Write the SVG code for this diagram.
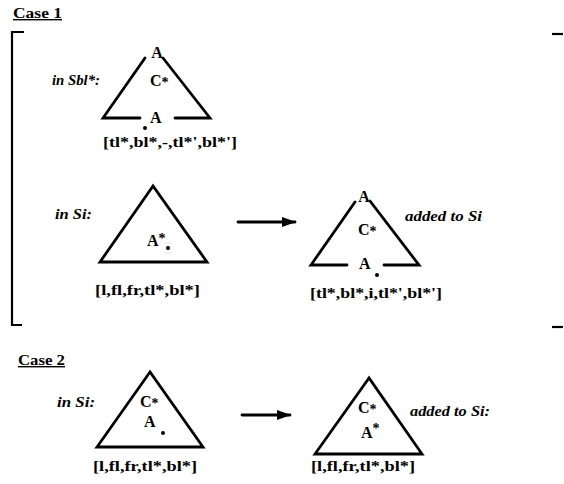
<svg xmlns="http://www.w3.org/2000/svg" width="564" height="484" viewBox="0 0 564 484">
<style>
.t{font-family:"Liberation Serif",serif;font-weight:bold;fill:#000}
.big{font-size:16px}
.lab{font-size:14px}
.it{font-family:"Liberation Serif",serif;font-weight:bold;font-style:italic;font-size:14px;fill:#000}
.hd{font-family:"Liberation Serif",serif;font-weight:bold;font-size:14px;fill:#000;text-decoration:underline}
.sup{font-size:14px}
.ln{stroke:#000;stroke-width:2.8;fill:none;stroke-linecap:round;stroke-linejoin:miter}
.br{stroke:#000;stroke-width:2.2;fill:none}
</style>
<defs>
<marker id="ah" viewBox="0 0 14 10" refX="13" refY="5" markerWidth="14" markerHeight="10" markerUnits="userSpaceOnUse" orient="auto">
<path d="M0,0 L14,5 L0,10 Z" fill="#000"/>
</marker>
</defs>
<rect width="564" height="484" fill="#fff"/>

<g id="case1-frame">
<text class="hd" x="13" y="18" textLength="49" lengthAdjust="spacingAndGlyphs">Case 1</text>
<path class="br" d="M24,32 L12,32 L12,325 L22,325"/>
<path class="br" d="M552,34 L563,34"/>
<path class="br" d="M552,327 L563,327"/>
</g>

<g id="tri-sbl">
<text class="it" x="52" y="85" textLength="48" lengthAdjust="spacingAndGlyphs">in Sbl*:</text>
<path class="ln" d="M145,58 L103,118 L140,118 M175,118 L210,118 L163,58"/>
<text class="t big" x="157" y="58" text-anchor="middle">A</text>
<text class="t big" x="150" y="86">C<tspan class="sup" dy="1">*</tspan></text>
<text class="t big" x="150" y="123">A</text>
<circle cx="145" cy="128" r="2"/>
<text class="t lab" x="103" y="147" textLength="134" lengthAdjust="spacingAndGlyphs">[tl*,bl*,-,tl*',bl*']</text>
</g>

<g id="tri-si-1">
<text class="it" x="55" y="219" textLength="37" lengthAdjust="spacingAndGlyphs">in Si:</text>
<path class="ln" d="M153,186 L100,262 L207,262 Z"/>
<text class="t big" x="147" y="246">A<tspan class="sup" dy="-3">*</tspan></text>
<circle cx="168" cy="248" r="2"/>
<text class="t lab" x="95" y="295" textLength="105" lengthAdjust="spacingAndGlyphs">[l,fl,fr,tl*,bl*]</text>
</g>

<g id="tri-added-1">
<path class="ln" d="M355,202 L311,265 L347,265 M384,265 L419,265 L370,201"/>
<text class="t big" x="364" y="202" text-anchor="middle">A</text>
<text class="t big" x="358" y="235">C<tspan class="sup" dy="1">*</tspan></text>
<text class="t big" x="359" y="269">A</text>
<circle cx="377" cy="275" r="2"/>
<text class="t lab" x="310" y="298" textLength="132" lengthAdjust="spacingAndGlyphs">[tl*,bl*,i,tl*',bl*']</text>
<text class="it" x="405" y="221" textLength="77" lengthAdjust="spacingAndGlyphs">added to Si</text>
</g>

<g id="case2-label">
<text class="hd" x="18" y="365" textLength="47" lengthAdjust="spacingAndGlyphs">Case 2</text>
</g>

<g id="tri-si-2">
<text class="it" x="57" y="407" textLength="38" lengthAdjust="spacingAndGlyphs">in Si:</text>
<path class="ln" d="M150,372 L97,447 L203,447 Z"/>
<text class="t big" x="140" y="407">C<tspan class="sup" dy="1">*</tspan></text>
<text class="t big" x="144" y="427">A</text>
<circle cx="163" cy="433" r="2"/>
<text class="t lab" x="93" y="471" textLength="104" lengthAdjust="spacingAndGlyphs">[l,fl,fr,tl*,bl*]</text>
</g>

<g id="tri-added-2">
<path class="ln" d="M369,378 L315,454 L422,454 Z"/>
<text class="t big" x="358" y="413">C<tspan class="sup" dy="1">*</tspan></text>
<text class="t big" x="361" y="438">A<tspan class="sup" dy="-5">*</tspan></text>
<text class="t lab" x="311" y="471" textLength="104" lengthAdjust="spacingAndGlyphs">[l,fl,fr,tl*,bl*]</text>
<text class="it" x="410" y="416" textLength="80" lengthAdjust="spacingAndGlyphs">added to Si:</text>
</g>

<g id="connectors">
<line class="ln" x1="238" y1="222" x2="295" y2="222" marker-end="url(#ah)"/>
<line class="ln" x1="242" y1="415" x2="290" y2="415" marker-end="url(#ah)"/>
</g>
</svg>
